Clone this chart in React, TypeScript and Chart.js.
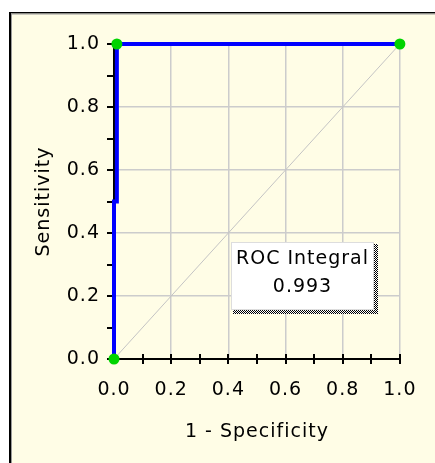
import React, { useEffect, useRef } from 'react';
import { Chart, registerables } from 'chart.js';

Chart.register(...registerables);

// ---- data ----
const rocX = [0, 0, 0.01, 0.01, 1];
const rocY = [0, 0.5, 0.5, 1, 1];
const markerIndices = [0, 3, 4];
const diagX = [0, 1];
const diagY = [0, 1];
const xTickLabels = ['0.0', '0.2', '0.4', '0.6', '0.8', '1.0'];
const yTickLabels = ['0.0', '0.2', '0.4', '0.6', '0.8', '1.0'];
const xTitle = '1 - Specificity';
const yTitle = 'Sensitivity';
const boxLines = ['ROC Integral', '0.993'];

// ---- layout / style ----
const W = 435;
const H = 463;
const FONT = '"DejaVu Sans", sans-serif';
const BG = '#fffde6';
const GRID = '#cccccc';
const SPACING = '1px';
const BOX = { x0: 0.409, x1: 0.909, yTop: 0.371, yBottom: 0.156 };

const labelFor = (labels: string[], v: number) => {
  const i = Math.round(v * 5);
  return Math.abs(v * 5 - i) < 1e-6 ? labels[i] : '';
};
const isMajor = (v: number) => Math.abs(v * 5 - Math.round(v * 5)) < 1e-6;

const framePlugin = {
  id: 'frame',
  beforeDraw(chart: any) {
    const ctx = chart.ctx;
    ctx.save();
    ctx.fillStyle = '#ffffff';
    ctx.fillRect(0, 0, W, H);
    ctx.fillStyle = BG;
    ctx.fillRect(9, 12, W - 9, H - 12);
    ctx.fillStyle = '#000000';
    ctx.fillRect(9, 12, 2, H - 12);
    ctx.fillRect(9, 12, W - 9, 1.5);
    ctx.fillStyle = '#9a9a9a';
    ctx.fillRect(11, 13.5, 1, H - 13.5);
    ctx.fillRect(11, 13.5, W - 11, 1);
    ctx.restore();
    // wider letter spacing, like the original bitmap font
    (ctx as any).letterSpacing = SPACING;
  },
};

const tickMarksPlugin = {
  id: 'tickMarks',
  beforeDatasetsDraw(chart: any) {
    const ctx = chart.ctx;
    const xs = chart.scales.x;
    const ys = chart.scales.y;
    const area = chart.chartArea;
    ctx.save();
    ctx.strokeStyle = '#000000';
    ctx.lineWidth = 2;
    ctx.beginPath();
    xs.ticks.forEach((t: any) => {
      if (t.value <= 0) return;
      const px = Math.round(xs.getPixelForValue(t.value));
      ctx.moveTo(px, area.bottom - 5);
      ctx.lineTo(px, area.bottom + 5);
    });
    ys.ticks.forEach((t: any) => {
      const py = Math.round(ys.getPixelForValue(t.value));
      ctx.moveTo(area.left - 7, py);
      ctx.lineTo(area.left, py);
    });
    ctx.stroke();
    ctx.restore();
  },
};

const boxPlugin = {
  id: 'rocBox',
  afterDatasetsDraw(chart: any) {
    const ctx = chart.ctx;
    const xs = chart.scales.x;
    const ys = chart.scales.y;
    const x0 = Math.round(xs.getPixelForValue(BOX.x0));
    const x1 = Math.round(xs.getPixelForValue(BOX.x1));
    const y0 = Math.round(ys.getPixelForValue(BOX.yTop));
    const y1 = Math.round(ys.getPixelForValue(BOX.yBottom));
    const pc = document.createElement('canvas');
    pc.width = 2;
    pc.height = 2;
    const pctx = pc.getContext('2d')!;
    pctx.fillStyle = '#ffffff';
    pctx.fillRect(0, 0, 2, 2);
    pctx.fillStyle = '#000000';
    pctx.fillRect(0, 0, 1, 1);
    pctx.fillRect(1, 1, 1, 1);
    const pattern = ctx.createPattern(pc, 'repeat');
    ctx.save();
    ctx.fillStyle = pattern;
    const s = 4;
    ctx.fillRect(x1, y0 + 2, s, y1 - y0 + s - 2);
    ctx.fillRect(x0 + 2, y1, x1 - x0 + s - 2, s);
    ctx.fillStyle = '#ffffff';
    ctx.fillRect(x0, y0, x1 - x0, y1 - y0);
    ctx.strokeStyle = '#dddddd';
    ctx.lineWidth = 1;
    ctx.strokeRect(x0 + 0.5, y0 + 0.5, x1 - x0 - 1, y1 - y0 - 1);
    ctx.fillStyle = '#000000';
    ctx.font = `19px ${FONT}`;
    (ctx as any).letterSpacing = SPACING;
    ctx.textAlign = 'center';
    ctx.textBaseline = 'middle';
    const cx = (x0 + x1) / 2;
    const h = y1 - y0;
    ctx.fillText(boxLines[0], cx, y0 + h * 0.25);
    ctx.fillText(boxLines[1], cx, y0 + h * 0.67);
    ctx.restore();
  },
};

export default function App() {
  const ref = useRef<HTMLCanvasElement | null>(null);

  useEffect(() => {
    document.body.style.margin = '0';
    const canvas = ref.current;
    if (!canvas) return;
    const chart = new Chart(canvas, {
      type: 'line',
      data: {
        datasets: [
          {
            label: 'ROC',
            data: rocX.map((x, i) => ({ x, y: rocY[i] })),
            borderColor: '#0000ff',
            borderWidth: 4,
            backgroundColor: '#00d400',
            pointBackgroundColor: '#00d400',
            pointBorderColor: '#00d400',
            pointBorderWidth: 0,
            pointRadius: (c: any) => (markerIndices.includes(c.dataIndex) ? 5.5 : 0),
            pointHoverRadius: 0,
            fill: false,
            tension: 0,
            clip: false as any,
            order: 0,
          },
          {
            label: 'diag',
            data: diagX.map((x, i) => ({ x, y: diagY[i] })),
            borderColor: '#c4c4c4',
            borderWidth: 1,
            pointRadius: 0,
            fill: false,
            tension: 0,
            order: 1,
          },
        ],
      },
      options: {
        animation: false,
        responsive: false,
        layout: { padding: { left: 10, top: 44, right: 35, bottom: 0 } },
        plugins: {
          legend: { display: false },
          tooltip: { enabled: false },
        },
        scales: {
          x: {
            type: 'linear',
            min: 0,
            max: 1,
            afterFit: (s: any) => {
              s.height = 104;
            },
            ticks: {
              stepSize: 0.1,
              autoSkip: false,
              maxRotation: 0,
              padding: 20,
              color: '#000000',
              font: { family: FONT, size: 19 },
              callback: (v: any) => labelFor(xTickLabels, Number(v)),
            },
            grid: {
              drawTicks: false,
              lineWidth: 1.5,
              color: (c: any) => (c.tick && c.tick.value > 0 && isMajor(c.tick.value) ? GRID : 'rgba(0,0,0,0)'),
            },
            border: { display: true, color: '#000000', width: 2 },
            title: {
              display: true,
              text: xTitle,
              color: '#000000',
              font: { family: FONT, size: 19 },
              padding: { top: 0, bottom: 20 },
            },
          },
          y: {
            type: 'linear',
            min: 0,
            max: 1,
            afterFit: (s: any) => {
              s.width = 104;
            },
            ticks: {
              stepSize: 0.1,
              autoSkip: false,
              padding: 14,
              color: '#000000',
              font: { family: FONT, size: 19 },
              callback: (v: any) => labelFor(yTickLabels, Number(v)),
            },
            grid: {
              drawTicks: false,
              lineWidth: 1.5,
              color: (c: any) => (c.tick && c.tick.value > 0 && isMajor(c.tick.value) ? GRID : 'rgba(0,0,0,0)'),
            },
            border: { display: true, color: '#000000', width: 2 },
            title: {
              display: true,
              text: yTitle,
              color: '#000000',
              font: { family: FONT, size: 19 },
              padding: { top: 23, bottom: 0 },
            },
          },
        },
      },
      plugins: [framePlugin, tickMarksPlugin, boxPlugin],
    });
    return () => chart.destroy();
  }, []);

  return <canvas ref={ref} width={W} height={H} style={{ display: 'block' }} />;
}
